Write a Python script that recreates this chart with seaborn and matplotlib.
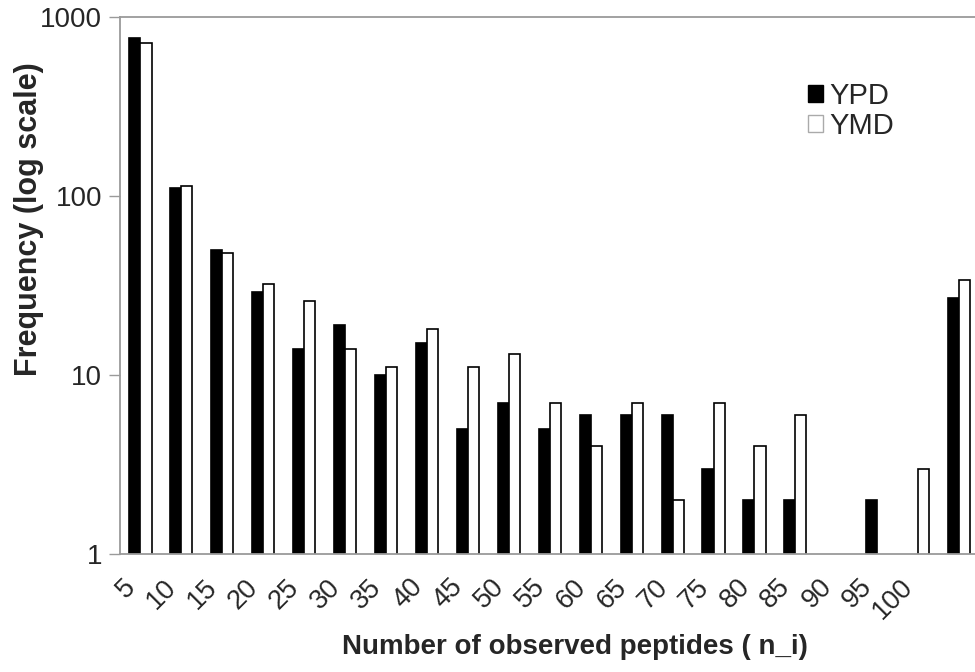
import numpy as np
import pandas as pd
import matplotlib
matplotlib.use("Agg")
import matplotlib.pyplot as plt
from matplotlib.patches import Patch
import seaborn as sns

# Peptide-count bins (last bin is the open-ended overflow bin, unlabeled)
categories = ["5", "10", "15", "20", "25", "30", "35", "40", "45", "50",
              "55", "60", "65", "70", "75", "80", "85", "90", "95", "100", ""]
tick_labels = ["5", "10", "15", "20", "25", "30", "35", "40", "45", "50",
               "55", "60", "65", "70", "75", "80", "85", "90", "95", "100", ""]

ypd = [760, 111, 50, 29, 14, 19, 10, 15, 5, 7,
       5, 6, 6, 6, 3, 2, 2, np.nan, 2, np.nan, 27]
ymd = [717, 114, 48, 32, 26, 14, 11, 18, 11, 13,
       7, 4, 7, 2, 7, 4, 6, np.nan, np.nan, 3, 34]

series = ["YPD", "YMD"]
colors = {"YPD": "black", "YMD": "white"}

df = pd.DataFrame({
    "bin": categories * 2,
    "condition": ["YPD"] * len(categories) + ["YMD"] * len(categories),
    "freq": ypd + ymd,
}).dropna()

sns.set_style("white")
plt.rcParams["font.family"] = ["Liberation Sans", "DejaVu Sans"]

W, H = 975, 672
fig = plt.figure(figsize=(W / 100, H / 100), dpi=100)
ax = fig.add_axes([120 / W, 1 - 554 / H, 859.6 / W, (554 - 16.7) / H])

sns.barplot(data=df, x="bin", y="freq", hue="condition",
            order=categories, hue_order=series, palette=colors,
            width=0.54, edgecolor="black", linewidth=1.2,
            legend=False, ax=ax)

ax.set_yscale("log")
ax.set_ylim(1, 1000)
ax.set_xlim(-0.5, len(categories) - 0.5)
ax.set_yticks([1, 10, 100, 1000])
ax.set_yticklabels(["1", "10", "100", "1000"])
ax.yaxis.set_minor_locator(matplotlib.ticker.NullLocator())

grey = "#9a9a9a"
# rotated labels hang just left of each bin centre; tick marks sit on bin boundaries
ax.set_xticks(np.arange(len(categories)) - 0.44)
ax.set_xticklabels(tick_labels, rotation=45, ha="right", va="top",
                   rotation_mode="anchor")
ax.set_xticks(np.arange(-0.5, len(categories), 1.0), minor=True)
ax.tick_params(axis="x", which="major", length=0, pad=14.5, labelsize=19.5)
ax.tick_params(axis="x", which="minor", length=7, width=1, color=grey,
               direction="out")
ax.tick_params(axis="y", which="major", length=8, width=1, color=grey,
               direction="out", pad=5, labelsize=20)
ax.tick_params(bottom=True, left=True)

for side in ["left", "top", "bottom"]:
    ax.spines[side].set_visible(True)
    ax.spines[side].set_color(grey)
    ax.spines[side].set_linewidth(1.3)
ax.spines["right"].set_visible(False)

ax.set_xlabel("")
ax.set_ylabel("")
fig.text(29.5 / W, 1 - 219 / H, "Frequency (log scale)", rotation=90,
         ha="center", va="center", fontsize=22, fontweight="bold")
fig.text(575 / W, 1 - 647 / H, "Number of observed peptides ( n_i)",
         ha="center", va="center", fontsize=20, fontweight="bold")

handles = [Patch(facecolor="black", edgecolor="black", linewidth=1),
           Patch(facecolor="white", edgecolor="#aaaaaa", linewidth=1)]
ax.legend(handles, series, loc="upper left",
          bbox_to_anchor=(808 / W, 1 - 82 / H), bbox_transform=fig.transFigure,
          frameon=False, borderpad=0, borderaxespad=0,
          handlelength=0.52, handleheight=0.52, handletextpad=0.2,
          labelspacing=0.07, fontsize=21)

fig.savefig("out.png", dpi=100)
